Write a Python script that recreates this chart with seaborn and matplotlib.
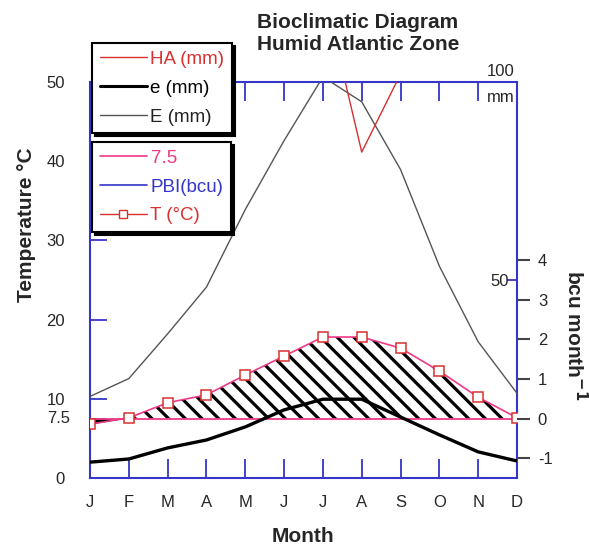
import numpy as np
import pandas as pd
import matplotlib
matplotlib.use('Agg')
import matplotlib.pyplot as plt
import matplotlib.transforms as mtransforms
from matplotlib.lines import Line2D
import seaborn as sns

months = ['J', 'F', 'M', 'A', 'M', 'J', 'J', 'A', 'S', 'O', 'N', 'D']
temp_c = [6.8, 7.6, 9.5, 10.5, 13.0, 15.4, 17.8, 17.8, 16.4, 13.5, 10.2, 7.6]
e_mm = [4.0, 4.8, 7.6, 9.6, 12.9, 17.2, 19.9, 19.9, 15.4, 10.9, 6.6, 4.3]
E_mm = [20.6, 25.1, 36.4, 48.2, 67.8, 85.2, 101.3, 95.0, 77.9, 53.5, 34.4, 21.4]
HA_mm = [np.nan, np.nan, np.nan, np.nan, np.nan, np.nan, 124.0, 82.3, 102.0, np.nan, np.nan, np.nan]
threshold = 7.5
temp_ticks = [0, 10, 20, 30, 40, 50]
bcu_ticks = [-1, 0, 1, 2, 3, 4]

sns.set_style('white')
plt.rcParams['font.family'] = ['Liberation Sans', 'DejaVu Sans']
plt.rcParams['hatch.linewidth'] = 2.3
plt.rcParams['axes.unicode_minus'] = False

blue = '#3535c8'
red = '#d83030'
pink = '#ee3a86'

df = pd.DataFrame({'m': np.arange(12), 'T': temp_c, 'e': e_mm, 'E': E_mm, 'HA': HA_mm})

fig = plt.figure(figsize=(5.89, 5.45), dpi=100)
ax = fig.add_axes([90/589, 1-478/545, 427/589, 396/545])
ax_mm = ax.twinx()
ax_bcu = ax.twinx()

# bioclimatic intensity: hatched warm part, solid cold part
T = np.array(temp_c)
ax.fill_between(df['m'], T, threshold, where=T >= threshold, interpolate=True,
                facecolor='none', edgecolor='black', hatch='\\\\', linewidth=0, zorder=2)
ax.fill_between(df['m'], T, threshold, where=T < threshold, interpolate=True,
                color='black', linewidth=0, zorder=2)
ax.axhline(threshold, color=pink, lw=1.3, zorder=3)
sns.lineplot(data=df, x='m', y='T', ax=ax, color=pink, lw=1.2, marker='s', markersize=7,
             markerfacecolor='white', markeredgecolor=red, markeredgewidth=1.1, zorder=4)

sns.lineplot(data=df, x='m', y='E', ax=ax_mm, color='#555555', lw=1.0)
sns.lineplot(data=df, x='m', y='e', ax=ax_mm, color='black', lw=2.4)
sns.lineplot(data=df, x='m', y='HA', ax=ax_mm, color=red, lw=1.0)

ax.set_xlim(0, 11)
ax.set_ylim(0, 50)
ax_mm.set_ylim(0, 100)
ax_bcu.set_ylim((0 - threshold) / 5, (50 - threshold) / 5)

ax.set_xticks(df['m'])
ax.set_xticklabels(months)
ax.set_yticks(temp_ticks + [threshold])
ax.set_yticklabels([str(t) for t in temp_ticks] + [''])
ax.text(-43/427, threshold, '7.5', transform=mtransforms.blended_transform_factory(ax.transAxes, ax.transData),
        ha='left', va='center', fontsize=12)
ax.set_xlabel('')
ax.set_ylabel('')
ax.tick_params(axis='x', direction='in', length=14, width=1.3, color=blue, top=True,
               bottom=True, pad=12.5, labelsize=12)
ax.tick_params(axis='y', direction='in', length=12, width=1.3, color=blue, pad=18, labelsize=12)
for s in ax.spines.values():
    s.set_color(blue)
    s.set_linewidth(1.5)

ax_mm.set_yticks([50])
ax_mm.set_ylabel('')
ax_mm.tick_params(axis='y', direction='in', length=7, width=1.3, color=blue, pad=-6, labelsize=12)
for t in ax_mm.get_yticklabels():
    t.set_horizontalalignment('right')
ax_mm.annotate('100', xy=(1, 1), xycoords='axes fraction', xytext=(-2, 2),
               textcoords='offset points', ha='right', va='bottom', fontsize=12)
ax_mm.annotate('mm', xy=(1, 1), xycoords='axes fraction', xytext=(-2, -6),
               textcoords='offset points', ha='right', va='top', fontsize=12)

ax_bcu.set_yticks(bcu_ticks)
ax_bcu.set_ylabel('')
ax_bcu.tick_params(axis='y', direction='out', length=9, width=1.5, color='#444444', pad=6,
                   labelsize=12)
for a in (ax_mm, ax_bcu):
    for s in a.spines.values():
        s.set_visible(False)

fig.text(358/589, 1-22/545, 'Bioclimatic Diagram', ha='center', va='center',
         fontsize=15, fontweight='bold')
fig.text(358/589, 1-45/545, 'Humid Atlantic Zone', ha='center', va='center',
         fontsize=15, fontweight='bold')
fig.text(27/589, 1-225/545, 'Temperature °C', rotation=90, ha='center', va='center',
         fontsize=15, fontweight='bold')
fig.text(303/589, 1-537/545, 'Month', ha='center', va='center', fontsize=15, fontweight='bold')
fig.text(575/589, 1-335/545, 'bcu month$^{\\mathbf{-1}}$', rotation=270, ha='center',
         va='center', fontsize=15, fontweight='bold')

h1 = [Line2D([], [], color=red, lw=1.0), Line2D([], [], color='black', lw=2.2),
      Line2D([], [], color='#555555', lw=1.0)]
h2 = [Line2D([], [], color=pink, lw=1.2), Line2D([], [], color=blue, lw=1.2),
      Line2D([], [], color=red, lw=1.0, marker='s', markersize=6, markerfacecolor='white',
             markeredgecolor=red)]
leg_kw = dict(loc='upper left', bbox_transform=fig.transFigure, borderaxespad=0,
              frameon=True, fancybox=False, framealpha=1, edgecolor='black',
              shadow={'color': 'black', 'alpha': 1}, fontsize=13.5, handlelength=2.5,
              handletextpad=0.2, borderpad=0.42, labelspacing=0.62)
leg1 = fig.legend(handles=h1, labels=['HA (mm)', 'e (mm)', 'E (mm)'],
                  bbox_to_anchor=(92/589, 1-43/545), **leg_kw)
leg2 = fig.legend(handles=h2, labels=['7.5', 'PBI(bcu)', 'T (°C)'],
                  bbox_to_anchor=(92/589, 1-142/545), **leg_kw)
for leg, cols in ((leg1, [red, 'black', '#222222']), (leg2, [pink, blue, red])):
    leg.get_frame().set_linewidth(1.5)
    for txt, c in zip(leg.get_texts(), cols):
        txt.set_color(c)

fig.savefig('out.png', dpi=100)
